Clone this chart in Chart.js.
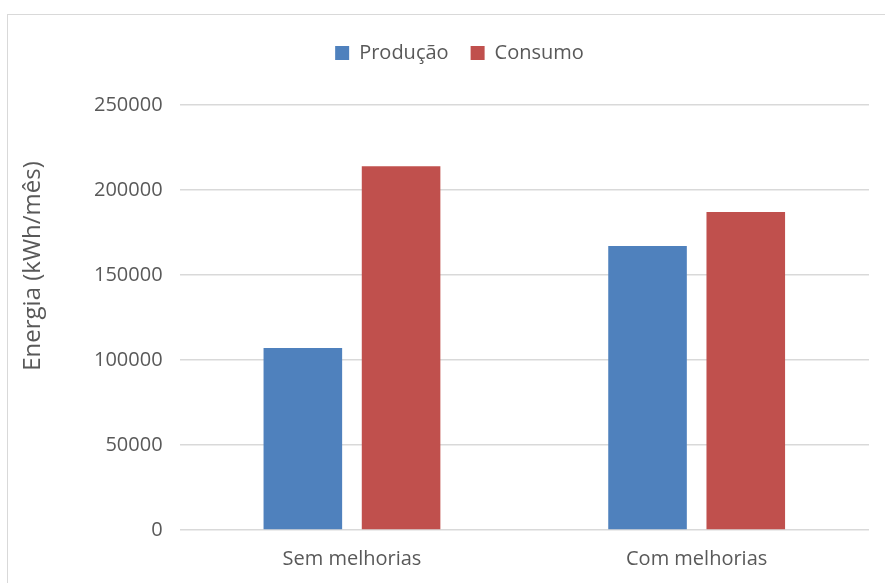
<!DOCTYPE html>
<html>
<head>
<meta charset="utf-8">
<script src="https://cdn.jsdelivr.net/npm/chart.js@4"></script>
<style>
    html, body { margin: 0; padding: 0; background: #ffffff; }
    #frame {
        position: absolute; left: 7px; top: 14px; width: 900px; height: 600px;
        border: 1px solid #d9d9d9; box-sizing: border-box;
    }
    #wrap { position: absolute; left: 0; top: 0; width: 885px; height: 583px; }
</style>
</head>
<body>
<div id="frame"></div>
<div id="wrap"><canvas id="myChart"></canvas></div>
<script>
const categories = ['Sem melhorias', 'Com melhorias'];
const producao = [107000, 167000];
const consumo = [214000, 187000];
const yTicks = [0, 50000, 100000, 150000, 200000, 250000];

const textColor = '#595959';
const fontFamily = "'Open Sans', sans-serif";

// extra room under the legend
const legendSpacer = {
    id: 'legendSpacer',
    beforeInit(chart) {
        const fit = chart.legend.fit;
        chart.legend.fit = function () {
            fit.bind(chart.legend)();
            this.height += 32;
        };
    }
};

// rotated y-axis title
const yTitle = {
    id: 'yTitle',
    afterDraw(chart) {
        const ctx = chart.ctx;
        ctx.save();
        ctx.translate(33, 266);
        ctx.rotate(-Math.PI / 2);
        ctx.font = '24px ' + fontFamily;
        ctx.fillStyle = textColor;
        ctx.textAlign = 'center';
        ctx.textBaseline = 'middle';
        ctx.fillText('Energia (kWh/mês)', 0, 0);
        ctx.restore();
    }
};

function createChart() {
    const ctx = document.getElementById('myChart').getContext('2d');
    new Chart(ctx, {
        type: 'bar',
        data: {
            labels: categories,
            datasets: [
                {
                    label: 'Produção',
                    data: producao,
                    backgroundColor: '#4f81bd',
                    borderWidth: 0,
                    barPercentage: 0.8,
                    categoryPercentage: 0.57
                },
                {
                    label: 'Consumo',
                    data: consumo,
                    backgroundColor: '#c0504d',
                    borderWidth: 0,
                    barPercentage: 0.8,
                    categoryPercentage: 0.57
                }
            ]
        },
        options: {
            responsive: false,
            animation: false,
            layout: {
                padding: { left: 50, right: 16, top: 21, bottom: -5 }
            },
            scales: {
                x: {
                    grid: { display: false, drawTicks: false },
                    border: { display: false },
                    ticks: {
                        color: textColor,
                        font: { family: fontFamily, size: 20 },
                        padding: 17
                    }
                },
                y: {
                    min: 0,
                    max: 250000,
                    afterBuildTicks: axis => {
                        axis.ticks = yTicks.map(v => ({ value: v }));
                    },
                    afterFit: axis => {
                        axis.width += 27;
                    },
                    grid: {
                        color: '#d9d9d9',
                        lineWidth: 1.5,
                        drawTicks: false
                    },
                    border: { display: false },
                    ticks: {
                        color: textColor,
                        font: { family: fontFamily, size: 20 },
                        padding: 17,
                        callback: value => String(value)
                    }
                }
            },
            plugins: {
                legend: {
                    position: 'top',
                    align: 'center',
                    labels: {
                        color: textColor,
                        font: { family: fontFamily, size: 20 },
                        boxWidth: 14,
                        boxHeight: 14,
                        padding: 22
                    }
                },
                tooltip: { enabled: false }
            }
        },
        plugins: [legendSpacer, yTitle]
    });
}

const canvas = document.getElementById('myChart');
canvas.width = 885;
canvas.height = 583;
document.addEventListener('DOMContentLoaded', createChart);
</script>
</body>
</html>
